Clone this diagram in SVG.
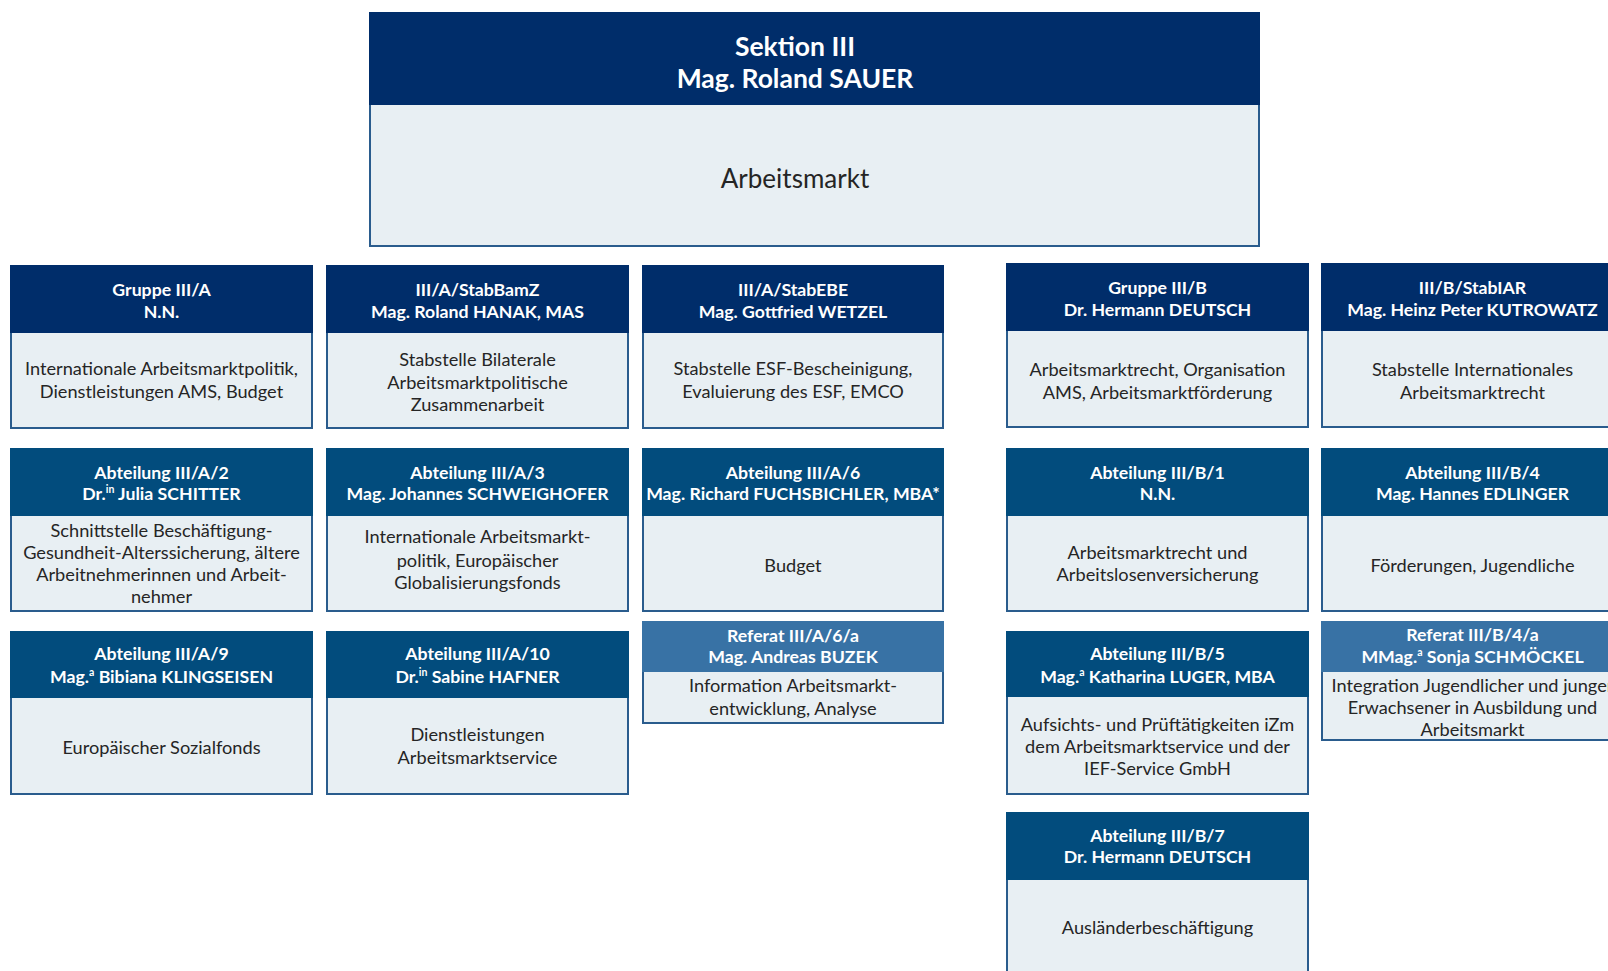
<svg xmlns="http://www.w3.org/2000/svg" width="1608" height="971" viewBox="0 0 1608 971">
<style>
.hn{fill:#002d6a}
.ha{fill:#024c7d}
.hr{fill:#3872a5}
.bd{fill:#e8eff3;stroke:#2a5c8d;stroke-width:2}
.ht{font-family:Lato,"Liberation Sans",sans-serif;font-weight:bold;font-size:17.7px;fill:#ffffff;text-anchor:middle}
.bt{font-family:Lato,"Liberation Sans",sans-serif;font-size:18.2px;fill:#252525;text-anchor:middle}
.tt{font-family:Lato,"Liberation Sans",sans-serif;font-weight:bold;font-size:26.5px;fill:#ffffff;text-anchor:middle}
.tb{font-family:Lato,"Liberation Sans",sans-serif;font-size:26px;fill:#252525;text-anchor:middle}
.sup{font-size:10.5px}
</style>
<rect width="1608" height="971" fill="#ffffff"/>
<g id="connectors"/>

<g id="sektion3">
<rect class="bd" x="370" y="104" width="889" height="142"/>
<rect class="hn" x="369" y="12" width="891" height="93"/>
<text class="tt" x="795" y="56">Sektion III</text>
<text class="tt" x="795" y="88">Mag. Roland SAUER</text>
<text class="tb" x="795" y="188">Arbeitsmarkt</text>
</g>

<g id="gruppe-iiia">
<rect class="bd" x="11" y="332" width="301" height="96"/>
<rect class="hn" x="10" y="265" width="303" height="68"/>
<text class="ht" x="161.5" y="296">Gruppe III/A</text>
<text class="ht" x="161.5" y="318">N.N.</text>
<text class="bt" x="161.5" y="375">Internationale Arbeitsmarktpolitik,</text>
<text class="bt" x="161.5" y="398">Dienstleistungen AMS, Budget</text>
</g>

<g id="stab-bamz">
<rect class="bd" x="327" y="332" width="301" height="96"/>
<rect class="hn" x="326" y="265" width="303" height="68"/>
<text class="ht" x="477.5" y="296">III/A/StabBamZ</text>
<text class="ht" x="477.5" y="318">Mag. Roland HANAK, MAS</text>
<text class="bt" x="477.5" y="366">Stabstelle Bilaterale</text>
<text class="bt" x="477.5" y="389">Arbeitsmarktpolitische</text>
<text class="bt" x="477.5" y="411">Zusammenarbeit</text>
</g>

<g id="stab-ebe">
<rect class="bd" x="643" y="332" width="300" height="96"/>
<rect class="hn" x="642" y="265" width="302" height="68"/>
<text class="ht" x="793" y="296">III/A/StabEBE</text>
<text class="ht" x="793" y="318">Mag. Gottfried WETZEL</text>
<text class="bt" x="793" y="375">Stabstelle ESF-Bescheinigung,</text>
<text class="bt" x="793" y="398">Evaluierung des ESF, EMCO</text>
</g>

<g id="gruppe-iiib">
<rect class="bd" x="1007" y="330" width="301" height="97"/>
<rect class="hn" x="1006" y="263" width="303" height="68"/>
<text class="ht" x="1157.5" y="294">Gruppe III/B</text>
<text class="ht" x="1157.5" y="316">Dr. Hermann DEUTSCH</text>
<text class="bt" x="1157.5" y="376">Arbeitsmarktrecht, Organisation</text>
<text class="bt" x="1157.5" y="399">AMS, Arbeitsmarktförderung</text>
</g>

<g id="stab-iar">
<rect class="bd" x="1322" y="330" width="301" height="97"/>
<rect class="hn" x="1321" y="263" width="303" height="68"/>
<text class="ht" x="1472.5" y="294">III/B/StabIAR</text>
<text class="ht" x="1472.5" y="316">Mag. Heinz Peter KUTROWATZ</text>
<text class="bt" x="1472.5" y="376">Stabstelle Internationales</text>
<text class="bt" x="1472.5" y="399">Arbeitsmarktrecht</text>
</g>

<g id="abt-a2">
<rect class="bd" x="11" y="515" width="301" height="96"/>
<rect class="ha" x="10" y="448" width="303" height="68"/>
<text class="ht" x="161.5" y="479">Abteilung III/A/2</text>
<text class="ht" x="161.5" y="500">Dr.<tspan class="sup" dy="-7">in</tspan><tspan dy="7"> Julia SCHITTER</tspan></text>
<text class="bt" x="161.5" y="537">Schnittstelle Beschäftigung-</text>
<text class="bt" x="161.5" y="559">Gesundheit-Alterssicherung, ältere</text>
<text class="bt" x="161.5" y="581">Arbeitnehmerinnen und Arbeit-</text>
<text class="bt" x="161.5" y="603">nehmer</text>
</g>

<g id="abt-a3">
<rect class="bd" x="327" y="515" width="301" height="96"/>
<rect class="ha" x="326" y="448" width="303" height="68"/>
<text class="ht" x="477.5" y="479">Abteilung III/A/3</text>
<text class="ht" x="477.5" y="500">Mag. Johannes SCHWEIGHOFER</text>
<text class="bt" x="477.5" y="543">Internationale Arbeitsmarkt-</text>
<text class="bt" x="477.5" y="567">politik, Europäischer</text>
<text class="bt" x="477.5" y="589">Globalisierungsfonds</text>
</g>

<g id="abt-a6">
<rect class="bd" x="643" y="515" width="300" height="96"/>
<rect class="ha" x="642" y="448" width="302" height="68"/>
<text class="ht" x="793" y="479">Abteilung III/A/6</text>
<text class="ht" x="793" y="500">Mag. Richard FUCHSBICHLER, MBA*</text>
<text class="bt" x="793" y="572">Budget</text>
</g>

<g id="abt-b1">
<rect class="bd" x="1007" y="515" width="301" height="96"/>
<rect class="ha" x="1006" y="448" width="303" height="68"/>
<text class="ht" x="1157.5" y="479">Abteilung III/B/1</text>
<text class="ht" x="1157.5" y="500">N.N.</text>
<text class="bt" x="1157.5" y="559">Arbeitsmarktrecht und</text>
<text class="bt" x="1157.5" y="581">Arbeitslosenversicherung</text>
</g>

<g id="abt-b4">
<rect class="bd" x="1322" y="515" width="301" height="96"/>
<rect class="ha" x="1321" y="448" width="303" height="68"/>
<text class="ht" x="1472.5" y="479">Abteilung III/B/4</text>
<text class="ht" x="1472.5" y="500">Mag. Hannes EDLINGER</text>
<text class="bt" x="1472.5" y="572">Förderungen, Jugendliche</text>
</g>

<g id="abt-a9">
<rect class="bd" x="11" y="697" width="301" height="97"/>
<rect class="ha" x="10" y="631" width="303" height="67"/>
<text class="ht" x="161.5" y="660">Abteilung III/A/9</text>
<text class="ht" x="161.5" y="683">Mag.<tspan class="sup" dy="-7">a</tspan><tspan dy="7"> Bibiana KLINGSEISEN</tspan></text>
<text class="bt" x="161.5" y="754">Europäischer Sozialfonds</text>
</g>

<g id="abt-a10">
<rect class="bd" x="327" y="697" width="301" height="97"/>
<rect class="ha" x="326" y="631" width="303" height="67"/>
<text class="ht" x="477.5" y="660">Abteilung III/A/10</text>
<text class="ht" x="477.5" y="683">Dr.<tspan class="sup" dy="-7">in</tspan><tspan dy="7"> Sabine HAFNER</tspan></text>
<text class="bt" x="477.5" y="741">Dienstleistungen</text>
<text class="bt" x="477.5" y="764">Arbeitsmarktservice</text>
</g>

<g id="ref-a6a">
<rect class="bd" x="643" y="671" width="300" height="52"/>
<rect class="hr" x="642" y="621" width="302" height="51"/>
<text class="ht" x="793" y="642">Referat III/A/6/a</text>
<text class="ht" x="793" y="663">Mag. Andreas BUZEK</text>
<text class="bt" x="793" y="692">Information Arbeitsmarkt-</text>
<text class="bt" x="793" y="715">entwicklung, Analyse</text>
</g>

<g id="abt-b5">
<rect class="bd" x="1007" y="696" width="301" height="98"/>
<rect class="ha" x="1006" y="631" width="303" height="66"/>
<text class="ht" x="1157.5" y="660">Abteilung III/B/5</text>
<text class="ht" x="1157.5" y="683">Mag.<tspan class="sup" dy="-7">a</tspan><tspan dy="7"> Katharina LUGER, MBA</tspan></text>
<text class="bt" x="1157.5" y="731">Aufsichts- und Prüftätigkeiten iZm</text>
<text class="bt" x="1157.5" y="753">dem Arbeitsmarktservice und der</text>
<text class="bt" x="1157.5" y="775">IEF-Service GmbH</text>
</g>

<g id="ref-b4a">
<rect class="bd" x="1322" y="671" width="301" height="69"/>
<rect class="hr" x="1321" y="621" width="303" height="51"/>
<text class="ht" x="1472.5" y="641">Referat III/B/4/a</text>
<text class="ht" x="1472.5" y="663">MMag.<tspan class="sup" dy="-7">a</tspan><tspan dy="7"> Sonja SCHMÖCKEL</tspan></text>
<text class="bt" x="1472.5" y="692">Integration Jugendlicher und junger</text>
<text class="bt" x="1472.5" y="714">Erwachsener in Ausbildung und</text>
<text class="bt" x="1472.5" y="736">Arbeitsmarkt</text>
</g>

<g id="abt-b7">
<rect class="bd" x="1007" y="879" width="301" height="110"/>
<rect class="ha" x="1006" y="812" width="303" height="68"/>
<text class="ht" x="1157.5" y="842">Abteilung III/B/7</text>
<text class="ht" x="1157.5" y="863">Dr. Hermann DEUTSCH</text>
<text class="bt" x="1157.5" y="934">Ausländerbeschäftigung</text>
</g>
</svg>
